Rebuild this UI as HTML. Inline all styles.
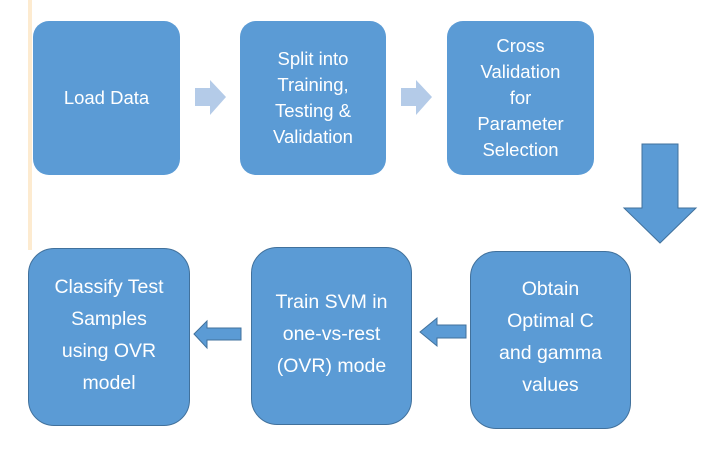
<!DOCTYPE html>
<html><head><style>
body{margin:0;width:706px;height:467px;background:#fff;position:relative;overflow:hidden;font-family:"Liberation Sans",sans-serif}
.b{position:absolute;background:#5b9bd5;color:#fff;display:flex;align-items:center;justify-content:center;text-align:center;font-size:18.5px;box-sizing:border-box}
.t{border-radius:16px;line-height:26px}
.r{border-radius:26px;border:1.5px solid #41719c;line-height:32px;font-size:19.5px}
</style></head><body>
<div style="position:absolute;left:28px;top:0;width:4px;height:250px;background:#fdebd0"></div>
<div class="b t" style="left:33px;top:21px;width:147px;height:154px">Load Data</div>
<div class="b t" style="left:240px;top:21px;width:146px;height:154px">Split into<br>Training,<br>Testing &amp;<br>Validation</div>
<div class="b t" style="left:447px;top:21px;width:147px;height:154px">Cross<br>Validation<br>for<br>Parameter<br>Selection</div>
<div class="b r" style="left:28px;top:248px;width:162px;height:178px;padding-bottom:4px">Classify Test<br>Samples<br>using OVR<br>model</div>
<div class="b r" style="left:251px;top:247px;width:161px;height:178px;padding-bottom:4px">Train SVM in<br>one-vs-rest<br>(OVR) mode</div>
<div class="b r" style="left:470px;top:251px;width:161px;height:178px;padding-bottom:6px">Obtain<br>Optimal C<br>and gamma<br>values</div>
<svg width="706" height="467" style="position:absolute;left:0;top:0">
<polygon points="195,88 210,88 210,80 226,97 210,115 210,106 195,106" fill="#b4cbe8"/>
<polygon points="401,88 416,88 416,80 432,97 416,115 416,106 401,106" fill="#b4cbe8"/>
<polygon points="642,144 678,144 678,208 696,208 660,243 624,208 642,208" fill="#5b9bd5" stroke="#41719c" stroke-width="1"/>
<polygon points="466,325 437,325 437,318 420,332 437,346 437,338 466,338" fill="#5b9bd5" stroke="#41719c" stroke-width="1"/>
<polygon points="241,328 207,328 207,321 194,334 207,348 207,340 241,340" fill="#5b9bd5" stroke="#41719c" stroke-width="1"/>
</svg>
</body></html>
